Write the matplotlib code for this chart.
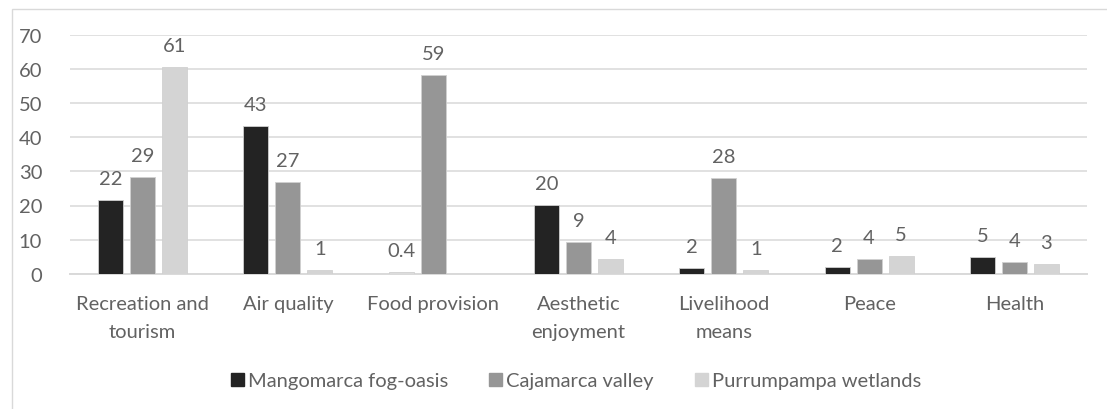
import matplotlib
matplotlib.use("Agg")
import matplotlib.pyplot as plt
import matplotlib.patches as mpatches
import numpy as np

categories = ["Recreation and\ntourism", "Air quality", "Food provision",
              "Aesthetic\nenjoyment", "Livelihood\nmeans", "Peace", "Health"]
series_names = ["Mangomarca fog-oasis", "Cajamarca valley", "Purrumpampa wetlands"]
mangomarca = [21.5, 43.2, 0.4, 20.2, 1.6, 2.0, 4.8]
cajamarca = [28.4, 26.9, 58.4, 9.2, 28.2, 4.2, 3.5]
purrumpampa = [60.5, 1.2, None, 4.2, 1.1, 5.2, 2.8]
labels_m = ["22", "43", "0.4", "20", "2", "2", "5"]
labels_c = ["29", "27", "59", "9", "28", "4", "4"]
labels_p = ["61", "1", "", "4", "1", "5", "3"]
yticks = [0, 10, 20, 30, 40, 50, 60, 70]

colors = ["#232323", "#969696", "#d4d4d4"]
txt_color = "#626262"
grid_color = "#d9d9d9"

plt.rcParams['font.family'] = ['Lato', 'DejaVu Sans']
FS = 14.5

W, H = 1107, 410
fig = plt.figure(figsize=(W / 100, H / 100), dpi=100)
ax = fig.add_axes([70 / W, 1 - 274.7 / H, 1017 / W, (274.7 - 36) / H])

x = np.arange(len(categories))
bw = 0.172
step = 0.22
all_vals = [mangomarca, cajamarca, purrumpampa]
all_labels = [labels_m, labels_c, labels_p]
for i, (vals, labs) in enumerate(zip(all_vals, all_labels)):
    v = np.array([np.nan if a is None else a for a in vals], dtype=float)
    xs = x + (i - 1) * step
    bars = ax.bar(xs, np.nan_to_num(v), width=bw, color=colors[i],
                  edgecolor="#d0d0d0", linewidth=0.6, zorder=3,
                  label=series_names[i])
    # very thin bars render as their light outline in the reference
    for b in bars:
        if b.get_height() < 1:
            b.set_facecolor("#dcdcdc")
    for xx, vv, lab in zip(xs, v, labs):
        if lab:
            ax.annotate(lab, (xx, vv), xytext=(0, 11.5), textcoords="offset points",
                        ha="center", va="baseline", fontsize=FS, color=txt_color)

ax.set_ylim(0, 70)
ax.set_xlim(-0.5, len(categories) - 0.5)
ax.set_yticks(yticks)
ax.set_yticklabels([str(t) for t in yticks], fontsize=FS, color=txt_color)
ax.set_xticks(x)
ax.set_xticklabels(categories, fontsize=FS, color=txt_color, linespacing=1.8)
ax.tick_params(axis="both", length=0)
ax.tick_params(axis="y", pad=20)
ax.tick_params(axis="x", pad=15)
ax.grid(axis="y", color=grid_color, linewidth=1.1, zorder=0)
ax.set_axisbelow(True)
for s in ["top", "right", "left"]:
    ax.spines[s].set_visible(False)
ax.spines["bottom"].set_color(grid_color)
ax.spines["bottom"].set_linewidth(1.4)

leg_handles = [mpatches.Patch(color=c) for c in colors]
leg = fig.legend(leg_handles, series_names, loc="center",
                 bbox_to_anchor=(576 / W, 1 - 382 / H), ncol=3, frameon=False,
                 fontsize=FS, handlelength=0.65, handleheight=0.65,
                 handletextpad=0.2, columnspacing=2.05)
for t in leg.get_texts():
    t.set_color(txt_color)

border = mpatches.Rectangle((11.5 / W, -0.2), 1.5, 1.2 - 10 / H, transform=fig.transFigure,
                            fill=False, edgecolor=grid_color, linewidth=1.0, clip_on=False)
fig.patches.append(border)

fig.savefig("out.png", dpi=100)
